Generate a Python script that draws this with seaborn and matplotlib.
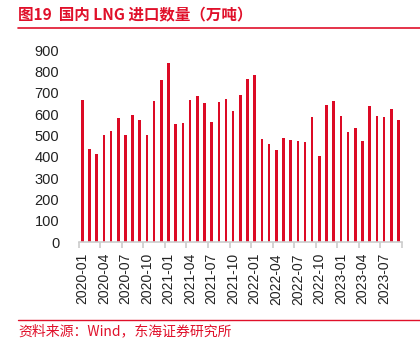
import matplotlib
matplotlib.use("Agg")
import matplotlib.pyplot as plt
import seaborn as sns
import pandas as pd
import numpy as np
from matplotlib.lines import Line2D

months = [f"{y}-{m:02d}" for y in range(2020, 2024) for m in range(1, 13)][:45]
values = [666, 438, 413, 502, 518, 580, 502, 596, 574, 502,
          661, 760, 839, 552, 558, 666, 686, 653, 561, 657,
          668, 615, 688, 764, 783, 482, 459, 432, 487, 479,
          473, 470, 586, 401, 641, 661, 591, 516, 533, 474,
          638, 590, 585, 624, 571]
yticks = [0, 100, 200, 300, 400, 500, 600, 700, 800, 900]

title = "图19  国内 LNG 进口数量（万吨）"
source = "资料来源：Wind，东海证券研究所"

sns.set_theme(style="white")
plt.rcParams['font.family'] = ['Liberation Sans', 'Noto Sans CJK SC', 'DejaVu Sans']

RED = "#dc0a25"
df = pd.DataFrame({"month": months, "value": values})

fig = plt.figure(figsize=(4.2, 3.46), dpi=100)
ax = fig.add_axes([78.7/420, 1-242/346, (402-78.7)/420, (242-50)/346])
sns.barplot(data=df, x="month", y="value", color=RED, width=0.36,
            saturation=1, linewidth=0, ax=ax)
ax.set_xlim(-0.5, len(months)-0.5)
ax.set_ylim(0, 900)
ax.set_yticks(yticks)
ax.set_yticklabels([str(v) for v in yticks], fontsize=10.5, color="#222222")
ax.tick_params(axis='y', length=0, pad=14)

lab_idx = list(range(0, len(months), 3))
ax.set_xticks(lab_idx)
ax.set_xticklabels([months[i] for i in lab_idx], rotation=90, fontsize=10, color="#222222")
ax.tick_params(axis='x', which='major', length=0, pad=8)
ax.set_xticks([i - 0.5 for i in lab_idx] + [len(months)-0.5], minor=True)
ax.tick_params(axis='x', which='minor', length=4, color="#cccccc", width=1.2, bottom=True)
ax.set_xlabel("")
ax.set_ylabel("")
for s in ["left", "right", "top"]:
    ax.spines[s].set_visible(False)
ax.spines["bottom"].set_color("#cccccc")
ax.spines["bottom"].set_linewidth(1.2)

fig.text(18/420, 1-15/346, title, color="#e0102a", fontsize=11.2, fontweight="bold",
         va="center", ha="left", family=['Noto Sans CJK SC', 'DejaVu Sans'])
fig.add_artist(Line2D([18/420, 1.0], [1-28/346, 1-28/346], color="#e0102a", lw=1.2))
fig.add_artist(Line2D([18/420, 1.0], [1-320/346, 1-320/346], color="#e0102a", lw=1.0))
fig.text(18/420, 1-331/346, source, color="#e0102a", fontsize=10,
         va="center", ha="left", family=['Noto Sans CJK SC', 'DejaVu Sans'])

fig.savefig("out.png", dpi=100)
